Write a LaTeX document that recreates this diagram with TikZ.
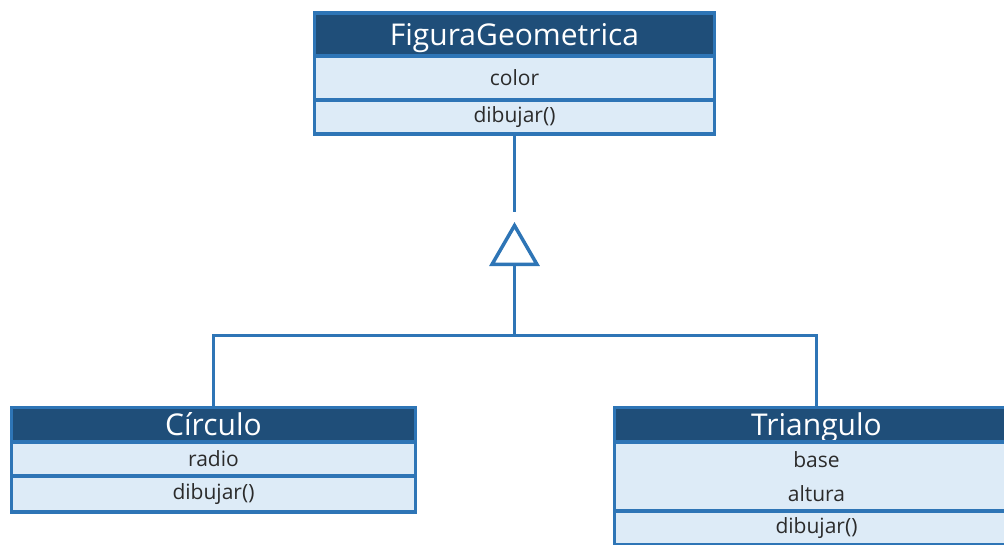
\documentclass[tikz,border=0pt]{standalone}
\usepackage{fontspec}
\setmainfont{Open Sans}
\usepackage{tikz}
\usetikzlibrary{positioning,calc,arrows.meta}

\definecolor{umlhead}{HTML}{1F4E79}
\definecolor{umlborder}{HTML}{2E75B6}
\definecolor{umlrow}{HTML}{DDEBF7}
\definecolor{umltext}{HTML}{2B2B2B}

\begin{document}
\begin{tikzpicture}[x=1pt,y=1pt,every node/.style={draw=umlborder,line width=3.5pt,text centered,inner sep=0pt,outer sep=0pt}]

% Define block styles
\tikzstyle{classname} = [fill=umlhead, text=white, font=\fontsize{30}{32}\selectfont, text height=25pt, text depth=4pt]
\tikzstyle{members} = [fill=umlrow, text=umltext, font=\fontsize{21}{34}\selectfont, align=center]
\tikzstyle{line} = [draw=umlborder, line width=3.5pt];
\tikzstyle{inherit} = [line, -{Triangle[open,length=44pt,width=50pt]}];

\clip (0,0) rectangle (1004,-544);

% parent class
\node [classname, minimum width=400pt, minimum height=43pt] (fig) at (514.5,-34.5) {FiguraGeometrica};
\node [members, minimum width=400pt, minimum height=44pt, below=0pt of fig] (figa) {color};
\node [members, minimum width=400pt, minimum height=34pt, below=0pt of figa] (figm) {dibujar()};

% subclasses
\node [classname, minimum width=404pt, minimum height=34.5pt] (circ) at (213.5,-424.75) {Círculo};
\node [members, minimum width=404pt, minimum height=34pt, below=0pt of circ] (circa) {radio};
\node [members, minimum width=404pt, minimum height=36pt, below=0pt of circa] (circm) {dibujar()};

\node [classname, minimum width=404pt, minimum height=34.5pt] (tri) at (816.5,-424.75) {Triangulo};
\node [members, minimum width=404pt, minimum height=69pt, below=0pt of tri] (tria) {base\\altura};
\node [members, minimum width=404pt, minimum height=34pt, below=0pt of tria] (trim) {dibujar()};

% generalization
\coordinate [below=78pt of figm.south] (stop);
\coordinate [below=10pt of stop] (tip);
\coordinate [above=72pt of circ.north -| figm.south] (join);

\draw[line] (figm.south) -- (stop);
\draw[inherit] (join) -- (tip);
\draw[line] (circ.north) |- (join) -| (tri.north);

\end{tikzpicture}
\end{document}
